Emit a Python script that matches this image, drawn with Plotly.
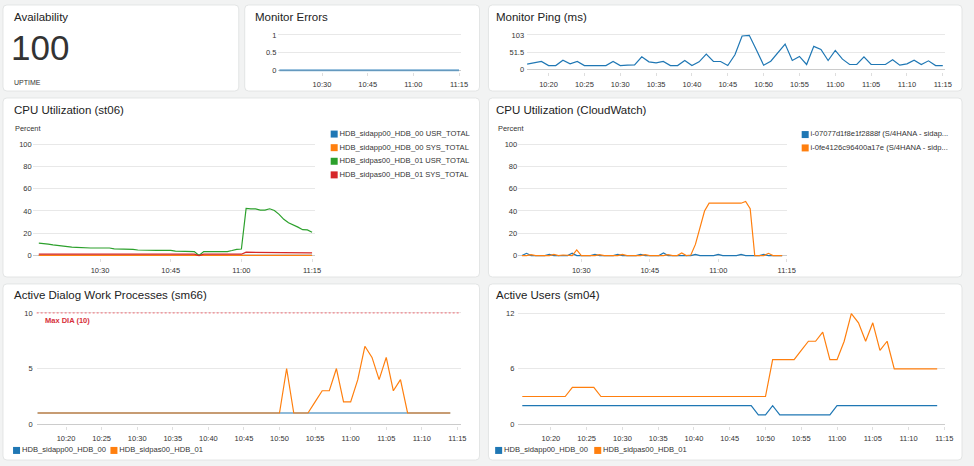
import pandas as pd
import plotly.graph_objects as go

W, H = 974, 466
FONT = "Liberation Sans, Arial, Helvetica, sans-serif"
DAY = "2024-01-01 "
BLUE, ORANGE, GREEN, RED = "#1f77b4", "#ff7f0e", "#2ca02c", "#d62728"

# ------------------------------------------------------------------ data
availability_value = "100"
availability_caption = "UPTIME"

errors_span = ("10:16", "11:15")
errors_values = [
    0, 0, 0, 0, 0, 0, 0, 0, 0, 0,
    0, 0, 0, 0, 0, 0, 0, 0, 0, 0,
    0, 0, 0, 0, 0, 0, 0, 0, 0, 0,
    0, 0, 0, 0, 0, 0, 0, 0, 0, 0,
    0, 0, 0, 0, 0, 0, 0, 0, 0, 0,
    0, 0, 0, 0, 0, 0, 0, 0, 0, 0,
]
errors_ticks = [0, 0.5, 1]

ping_span = ("10:17", "11:15")
ping_ms = [
    16, 20, 24, 12, 12, 28, 17, 24, 12, 12,
    12, 12, 24, 12, 13, 14, 38, 23, 20, 24,
    12, 12, 27, 12, 23, 46, 24, 24, 12, 44,
    100, 102, 58, 13, 25, 50, 76, 27, 39, 15,
    69, 60, 27, 57, 31, 15, 15, 38, 15, 15,
    15, 29, 13, 17, 28, 15, 26, 12, 12,
]
ping_ticks = [0, 51.5, 103]

pct_ticks = [0, 20, 40, 60, 80, 100]
pct_label = "Percent"

st06_span = ("10:17", "11:15")
st06_names = [
    "HDB_sidapp00_HDB_00 USR_TOTAL",
    "HDB_sidapp00_HDB_00 SYS_TOTAL",
    "HDB_sidpas00_HDB_01 USR_TOTAL",
    "HDB_sidpas00_HDB_01 SYS_TOTAL",
]
st06_app_usr = [
    0.1, 0.1, 0.1, 0.1, 0.1, 0.1, 0.1, 0.1, 0.1, 0.1,
    0.1, 0.1, 0.1, 0.1, 0.1, 0.1, 0.1, 0.1, 0.1, 0.1,
    0.1, 0.1, 0.1, 0.1, 0.1, 0.1, 0.1, 0.1, 0.1, 0.1,
    0.1, 0.1, 0.1, 0.1, 0.0, 0.1, 0.1, 0.1, 0.1, 0.1,
    0.1, 0.1, 0.1, 0.1, 0.1, 0.1, 0.1, 0.1, 0.1, 0.1,
    0.1, 0.1, 0.1, 0.1, 0.1, 0.1, 0.1, 0.1, 0.1,
]
st06_app_sys = [
    0.2, 0.2, 0.2, 0.2, 0.2, 0.2, 0.2, 0.2, 0.2, 0.2,
    0.2, 0.2, 0.2, 0.2, 0.2, 0.2, 0.2, 0.2, 0.2, 0.2,
    0.2, 0.2, 0.2, 0.2, 0.2, 0.2, 0.2, 0.2, 0.2, 0.2,
    0.2, 0.2, 0.2, 0.2, 0.0, 0.2, 0.2, 0.2, 0.2, 0.2,
    0.2, 0.2, 0.2, 0.2, 0.2, 0.2, 0.2, 0.2, 0.2, 0.2,
    0.2, 0.2, 0.2, 0.2, 0.2, 0.2, 0.2, 0.2, 0.2,
]
st06_pas_usr = [
    11.2, 10.9, 10.3, 9.6, 9.0, 8.6, 7.8, 7.5, 7.3, 7.0,
    7.0, 6.8, 6.8, 6.8, 6.8, 6.8, 6.0, 5.9, 5.9, 5.9,
    5.6, 5.0, 4.8, 4.7, 4.7, 4.7, 4.7, 4.7, 4.7, 4.0,
    3.8, 3.7, 3.6, 3.6, 0.0, 3.6, 3.6, 3.6, 3.6, 3.6,
    3.6, 4.5, 5.6, 5.9, 42.3, 42.0, 41.9, 40.8, 40.8, 42.0,
    40.5, 37.0, 32.5, 29.5, 27.8, 25.5, 23.2, 23.0, 21.0,
]
st06_pas_sys = [
    1.2, 1.2, 1.2, 1.2, 1.2, 1.2, 1.2, 1.2, 1.2, 1.2,
    1.2, 1.2, 1.2, 1.2, 1.2, 1.2, 1.2, 1.2, 1.2, 1.2,
    1.2, 1.2, 1.2, 1.2, 1.2, 1.2, 1.2, 1.2, 1.2, 1.2,
    1.2, 1.2, 1.2, 1.2, 0.0, 1.2, 1.2, 1.2, 1.2, 1.2,
    1.2, 1.2, 1.2, 1.2, 3.0, 3.0, 3.0, 3.0, 3.0, 3.0,
    3.0, 3.0, 2.4, 2.4, 2.4, 2.4, 2.4, 2.4, 2.4,
]

cw_span = ("10:17", "11:14")
cw_names = [
    "i-07077d1f8e1f2888f (S/4HANA - sidap...",
    "i-0fe4126c96400a17e (S/4HANA - sidp...",
]
cw_app = [
    0, 2.0, 0, 0, 0, 0, 1.0, 0, 0, 0,
    0, 2.2, 0, 0, 0, 0, 1.0, 0, 0, 0,
    0, 1.0, 0, 0, 0, 0, 1.0, 0, 0, 0,
    0, 2.3, 0, 0, 0, 0, 0, 0, 1.0, 0,
    0, 0, 0, 1.0, 0, 0, 0, 0, 1.0, 0,
    0, 0, 0, 1.0, 0, 0, 0, 0,
]
cw_pas = [
    0, 0, 0.8, 0, 0, 0, 0, 1.0, 0, 0.5,
    0, 0, 5.0, 0, 0, 0, 0, 0.8, 0, 0,
    0, 0, 1.0, 0, 0, 0, 0, 0.8, 0, 0,
    0, 0, 0.8, 0, 0, 2.4, 0, 0.5, 10, 25,
    40, 47, 47, 47, 47.5, 47, 47, 47, 47, 48.5,
    42, 0, 0, 0, 2.0, 0, 0, 0,
]

sap_names = ["HDB_sidapp00_HDB_00", "HDB_sidpas00_HDB_01"]

sm66_span = ("10:16", "11:14")
sm66_app = [
    1, 1, 1, 1, 1, 1, 1, 1, 1, 1,
    1, 1, 1, 1, 1, 1, 1, 1, 1, 1,
    1, 1, 1, 1, 1, 1, 1, 1, 1, 1,
    1, 1, 1, 1, 1, 1, 1, 1, 1, 1,
    1, 1, 1, 1, 1, 1, 1, 1, 1, 1,
    1, 1, 1, 1, 1, 1, 1, 1, 1,
]
sm66_pas = [
    1, 1, 1, 1, 1, 1, 1, 1, 1, 1,
    1, 1, 1, 1, 1, 1, 1, 1, 1, 1,
    1, 1, 1, 1, 1, 1, 1, 1, 1, 1,
    1, 1, 1, 1, 1, 5, 1, 1, 1, 2,
    3, 3, 5, 2, 2, 4, 7, 6, 4, 6,
    3, 4, 1, 1, 1, 1, 1, 1, 1,
]
sm66_ticks = [0, 5, 10]
sm66_max = 10
sm66_max_label = "Max DIA (10)"

sm04_span = ("10:16", "11:14")
sm04_app = [
    2, 2, 2, 2, 2, 2, 2, 2, 2, 2,
    2, 2, 2, 2, 2, 2, 2, 2, 2, 2,
    2, 2, 2, 2, 2, 2, 2, 2, 2, 2,
    2, 2, 2, 1, 1, 2, 1, 1, 1, 1,
    1, 1, 1, 1, 2, 2, 2, 2, 2, 2,
    2, 2, 2, 2, 2, 2, 2, 2, 2,
]
sm04_pas = [
    3, 3, 3, 3, 3, 3, 3, 4, 4, 4,
    4, 3, 3, 3, 3, 3, 3, 3, 3, 3,
    3, 3, 3, 3, 3, 3, 3, 3, 3, 3,
    3, 3, 3, 3, 3, 7, 7, 7, 7, 8,
    9, 9, 10, 7, 7, 9, 12, 11, 9, 11,
    8, 9, 6, 6, 6, 6, 6, 6, 6,
]
sm04_ticks = [0, 6, 12]

titles = [
    "Availability", "Monitor Errors", "Monitor Ping (ms)",
    "CPU Utilization (st06)", "CPU Utilization (CloudWatch)",
    "Active Dialog Work Processes (sm66)", "Active Users (sm04)",
]


# ------------------------------------------------------------------ helpers
def minutes(span):
    return pd.date_range(DAY + span[0], DAY + span[1], freq="1min")


def xdom(l, r):
    return [l / W, r / W]


def ydom(t, b):
    return [1 - b / H, 1 - t / H]


TICKFONT = dict(family=FONT, size=7.5, color="#333333")
LEGFONT = dict(family=FONT, size=7.6, color="#333333")


def make_x(dom, rng, dtick_min, anchor):
    return dict(domain=xdom(*dom), range=[DAY + rng[0], DAY + rng[1]], type="date",
                tickformat="%H:%M", tick0=DAY + "10:00", dtick=dtick_min * 60000,
                ticks="outside", ticklen=3, tickwidth=1, tickcolor="#dedede",
                showgrid=False, zeroline=False, showline=False, tickfont=TICKFONT,
                ticklabelstandoff=2, anchor=anchor, fixedrange=True)


def make_y(dom, rng, tickvals, anchor, standoff):
    return dict(domain=ydom(*dom), range=rng, type="linear",
                tickmode="array", tickvals=tickvals,
                ticktext=[f"{v:g}" for v in tickvals],
                showgrid=True, gridcolor="#e8e8e8", gridwidth=1,
                zeroline=True, zerolinecolor="#cccccc", zerolinewidth=1,
                showline=False, ticks="", tickfont=TICKFONT, ticklabelstandoff=standoff,
                anchor=anchor, fixedrange=True)


def rrect(x0, y0, x1, y1, r=4):
    rx, ry = r / W, r / H
    X0, X1 = x0 / W, x1 / W
    T, B = 1 - y0 / H, 1 - y1 / H
    return (f"M{X0+rx},{T} L{X1-rx},{T} Q{X1},{T} {X1},{T-ry} L{X1},{B+ry} "
            f"Q{X1},{B} {X1-rx},{B} L{X0+rx},{B} Q{X0},{B} {X0},{B+ry} "
            f"L{X0},{T-ry} Q{X0},{T} {X0+rx},{T} Z")


# ------------------------------------------------------------------ figure
fig = go.Figure()


def line(span, vals, color, ax, width=1.2, opacity=1.0, name=None):
    x = minutes(span)
    assert len(x) == len(vals), (span, len(vals))
    fig.add_trace(go.Scatter(x=x, y=vals, mode="lines", name=name,
                             line=dict(color=color, width=width), opacity=opacity,
                             xaxis="x" + ax, yaxis="y" + ax, hoverinfo="skip",
                             showlegend=False))


line(errors_span, errors_values, BLUE, "8", width=2, opacity=0.6)
line(ping_span, ping_ms, BLUE, "2")
for vals, col, nm in zip([st06_app_usr, st06_app_sys, st06_pas_usr, st06_pas_sys],
                         [BLUE, ORANGE, GREEN, RED], st06_names):
    line(st06_span, vals, col, "3", name=nm)
for vals, col, nm in zip([cw_app, cw_pas], [BLUE, ORANGE], cw_names):
    line(cw_span, vals, col, "4", name=nm)
for vals, col, nm in zip([sm66_app, sm66_pas], [BLUE, ORANGE], sap_names):
    line(sm66_span, vals, col, "5", name=nm)
for vals, col, nm in zip([sm04_app, sm04_pas], [BLUE, ORANGE], sap_names):
    line(sm04_span, vals, col, "6", name=nm)

# legends drawn on a full-figure pixel overlay axis
legend_blocks = [
    dict(names=st06_names, colors=[BLUE, ORANGE, GREEN, RED], x0=337.3, y0=133.5, dx=0, dy=13.75),
    dict(names=cw_names, colors=[BLUE, ORANGE], x0=812.7, y0=134.0, dx=0, dy=13.5),
    dict(names=sap_names, colors=[BLUE, ORANGE], x0=16.7, y0=453.3, dx=98.3, dy=0),
    dict(names=sap_names, colors=[BLUE, ORANGE], x0=503.3, y0=453.3, dx=100.0, dy=0),
]
for blk in legend_blocks:
    n = len(blk["names"])
    fig.add_trace(go.Scatter(
        x=[blk["x0"] + i * blk["dx"] for i in range(n)],
        y=[blk["y0"] + i * blk["dy"] for i in range(n)],
        mode="markers+text", text=blk["names"], textposition="middle right",
        textfont=LEGFONT,
        marker=dict(symbol="square", size=7, color=blk["colors"], line=dict(width=0)),
        xaxis="x7", yaxis="y7", hoverinfo="skip", showlegend=False, cliponaxis=False))

layout = dict(
    width=W, height=H, autosize=False,
    margin=dict(l=0, r=0, t=0, b=0, pad=0),
    paper_bgcolor="#f2f3f3", plot_bgcolor="rgba(0,0,0,0)",
    font=dict(family=FONT, color="#333333"),
    showlegend=False, hovermode=False,
    xaxis2=make_x((532, 954), ("10:17:00", "11:15:20"), 5, "y2"),
    yaxis2=make_y((31, 70.5), [-6.5, 109.8], ping_ticks, "x2", 2),
    xaxis3=make_x((33, 318), ("10:15:42", "11:15:38"), 15, "y3"),
    yaxis3=make_y((140, 258.5), [-1.95, 103.3], pct_ticks, "x3", 0),
    xaxis4=make_x((523, 794.5), ("10:16:10", "11:15:06"), 15, "y4"),
    yaxis4=make_y((140, 258.5), [-1.95, 103.3], pct_ticks, "x4", 0),
    xaxis5=make_x((37, 465), ("10:15:52", "11:15:28"), 5, "y5"),
    yaxis5=make_y((309, 429), [-0.205, 10.47], sm66_ticks, "x5", 3),
    xaxis6=make_x((523.3, 953.5), ("10:15:28", "11:15:03"), 5, "y6"),
    yaxis6=make_y((309, 429), [-0.247, 12.645], sm04_ticks, "x6", 3),
    xaxis7=dict(domain=[0, 1], range=[0, W], visible=False, anchor="y7", fixedrange=True),
    yaxis7=dict(domain=[0, 1], range=[H, 0], visible=False, anchor="x7", fixedrange=True),
    xaxis8=make_x((281, 465), ("10:15:41", "11:15:33"), 15, "y8"),
    yaxis8=make_y((30.5, 71), [-0.056, 1.078], errors_ticks, "x8", 1),
)
fig.update_layout(**layout)

# panels
panels = [(3, 3, 241, 90), (247, 3, 484, 90), (493, 3, 971, 90),
          (3, 97, 484, 278), (493, 97, 971, 278),
          (3, 285, 484, 463), (493, 285, 971, 463)]
for p in panels:
    fig.add_shape(type="path", path=rrect(*p), xref="paper", yref="paper",
                  fillcolor="#ffffff", line=dict(color="#e3e5e5", width=1), layer="below")

# max DIA reference line
fig.add_shape(type="line", xref="x5 domain", x0=0, x1=1, yref="y5", y0=sm66_max, y1=sm66_max,
              line=dict(color="#ee6a72", width=1, dash="2px,2px"), layer="above")


def text(s, x, y, size, color="#222222", anchor="left"):
    fig.add_annotation(text=s, x=x / W, y=1 - y / H, xref="paper", yref="paper",
                       xanchor=anchor, yanchor="middle", showarrow=False,
                       font=dict(family=FONT, size=size, color=color))


title_pos = [(12, 15.0), (255, 15.0), (498.3, 15.0), (11.7, 109.0), (498.3, 109.0),
             (11.7, 296.3), (498.3, 296.3)]
for t, (x, y) in zip(titles, title_pos):
    text(t, x, y, 11.5)

text(availability_value, 9.5, 45.5, 35, color="#333333")
text(availability_caption, 12, 81, 7, color="#333333")
text(pct_label, 13, 127.7, 7.4, color="#333333")
text(pct_label, 501, 127.7, 7.4, color="#333333")
text("<b>" + sm66_max_label + "</b>", 43, 321.7, 7.5, color="#d6303a")

fig.write_html("out.html", config={"displayModeBar": False, "staticPlot": True},
               post_script="document.body.style.margin='0';document.body.style.overflow='hidden';")
